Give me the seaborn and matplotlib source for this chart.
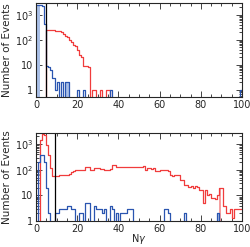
import numpy as np
import pandas as pd
import matplotlib
matplotlib.use("Agg")
import matplotlib.pyplot as plt
import seaborn as sns
from matplotlib.ticker import LogLocator, FixedLocator, MultipleLocator, NullFormatter

# ---------------- data (counts per unit-width bin, N_gamma = 0..99) ----------------
bin_edges = list(range(0, 101))
x_ticks = [0, 20, 40, 60, 80, 100]

top_red = {5: 240, 6: 250, 7: 250, 8: 240, 9: 230, 10: 230, 11: 220, 12: 200, 13: 180,
           14: 150, 15: 130, 16: 100, 17: 85, 18: 65, 19: 55, 20: 40, 21: 25, 22: 20,
           23: 9, 24: 9, 25: 8, 27: 1, 28: 1, 31: 1, 34: 1, 35: 1}
top_blue = {0: 2600, 1: 2600, 2: 2400, 3: 2200, 4: 450, 5: 9, 6: 8, 7: 6, 8: 3, 9: 1,
            10: 2, 12: 2, 14: 2, 15: 2, 20: 1, 23: 1, 36: 1, 99: 1}
top_blue_fill = {0: 2600, 1: 2600, 14: 2, 15: 2}
top_cut = 5

bot_red = {2: 1500, 3: 2600, 4: 2300, 5: 900, 6: 380, 7: 120, 8: 55, 9: 55, 10: 58,
           11: 62, 12: 63, 13: 62, 14: 65, 15: 63, 16: 70, 17: 80, 18: 90, 19: 95,
           20: 99, 21: 99, 22: 99, 23: 99, 24: 134, 25: 134, 26: 99, 27: 99, 28: 118,
           29: 118, 30: 118, 31: 110, 32: 110, 33: 99, 34: 99, 35: 99, 36: 105,
           37: 155, 38: 155, 39: 130, 40: 130, 41: 134, 42: 134, 43: 134, 44: 130,
           45: 130, 46: 130, 47: 130, 48: 125, 49: 130, 50: 130, 51: 125, 52: 145,
           53: 100, 54: 115, 55: 115, 56: 110, 57: 115, 58: 90, 59: 90, 60: 95,
           61: 100, 62: 95, 63: 100, 64: 90, 65: 60, 66: 55, 67: 63, 68: 60, 69: 63,
           70: 40, 71: 40, 72: 26, 73: 26, 74: 22, 75: 24, 76: 20, 77: 23, 78: 22,
           79: 16, 80: 16, 81: 5, 82: 16, 83: 10, 84: 11, 85: 8, 86: 8, 87: 7, 88: 10,
           89: 19, 90: 19, 91: 4, 92: 2, 93: 2, 94: 3, 95: 1.3, 96: 3, 97: 3, 98: 3, 99: 3}
bot_red_fill = {89: 19}
bot_blue = {1: 200, 2: 380, 3: 380, 4: 200, 5: 19, 6: 2, 9: 2, 10: 2, 11: 3, 12: 3,
            13: 3, 14: 3, 15: 4, 16: 4, 17: 3, 18: 3, 21: 2, 22: 2, 24: 5, 25: 5,
            28: 4, 29: 3, 30: 3, 31: 3, 32: 2, 33: 3, 36: 4, 37: 3, 39: 2, 41: 2,
            42: 2, 43: 2, 44: 3, 45: 3, 46: 3, 62: 3, 63: 3, 64: 2, 72: 2, 88: 2}
bot_blue_fill = {88: 2}
bot_cut = 9


def to_frame(d):
    return pd.DataFrame({"ngamma": [k + 0.5 for k in d], "count": list(d.values())})


sns.set_style("ticks")
plt.rcParams["font.family"] = ["Liberation Sans Narrow", "DejaVu Sans"]

fig = plt.figure(figsize=(2.5, 2.47), dpi=100)
ax1 = fig.add_axes([0.144, 0.607, 0.824, 0.381])
ax2 = fig.add_axes([0.144, 0.105, 0.824, 0.356])

red = "#f03c3c"
blue = "#2a55b0"
lred = "#f6a0a0"
lblue = "#a9bfe6"


def panel(ax, red_d, blue_d, redfill, bluefill, cut, ylim):
    for d, c in ((bluefill, lblue), (redfill, lred)):
        if d:
            sns.histplot(data=to_frame(d), x="ngamma", weights="count", bins=bin_edges,
                         element="bars", fill=True, color=c, alpha=1, linewidth=0, ax=ax)
    sns.histplot(data=to_frame(red_d), x="ngamma", weights="count", bins=bin_edges,
                 element="step", fill=False, color=red, linewidth=0.9, ax=ax)
    sns.histplot(data=to_frame(blue_d), x="ngamma", weights="count", bins=bin_edges,
                 element="step", fill=False, color=blue, linewidth=0.9, ax=ax)
    ax.axvline(cut, color="black", linewidth=0.9)
    ax.set_yscale("log")
    ax.set_xlim(0, 100)
    ax.set_ylim(*ylim)
    ax.xaxis.set_major_locator(FixedLocator(x_ticks))
    ax.xaxis.set_minor_locator(MultipleLocator(5))
    ax.yaxis.set_major_locator(FixedLocator([1, 10, 100, 1000]))
    ax.set_yticklabels(["1", "10", "$10^2$", "$10^3$"])
    ax.yaxis.set_minor_locator(LogLocator(base=10, subs=np.arange(2, 10), numticks=20))
    ax.yaxis.set_minor_formatter(NullFormatter())
    ax.tick_params(which="both", direction="in", top=True, right=True, labelsize=7,
                   width=0.6, pad=2)
    ax.tick_params(which="major", length=4)
    ax.tick_params(which="minor", length=2)
    for s in ax.spines.values():
        s.set_linewidth(0.8)
    ax.set_ylabel("Number of Events", fontsize=7.5, labelpad=2)
    ax.set_xlabel("")


panel(ax1, top_red, top_blue, {}, top_blue_fill, top_cut, (0.52, 3000))
panel(ax2, bot_red, bot_blue, bot_red_fill, bot_blue_fill, bot_cut, (1, 2700))
ax2.set_xlabel("N$\\gamma$", fontsize=7, labelpad=-1)

fig.savefig("out.png", dpi=100)
